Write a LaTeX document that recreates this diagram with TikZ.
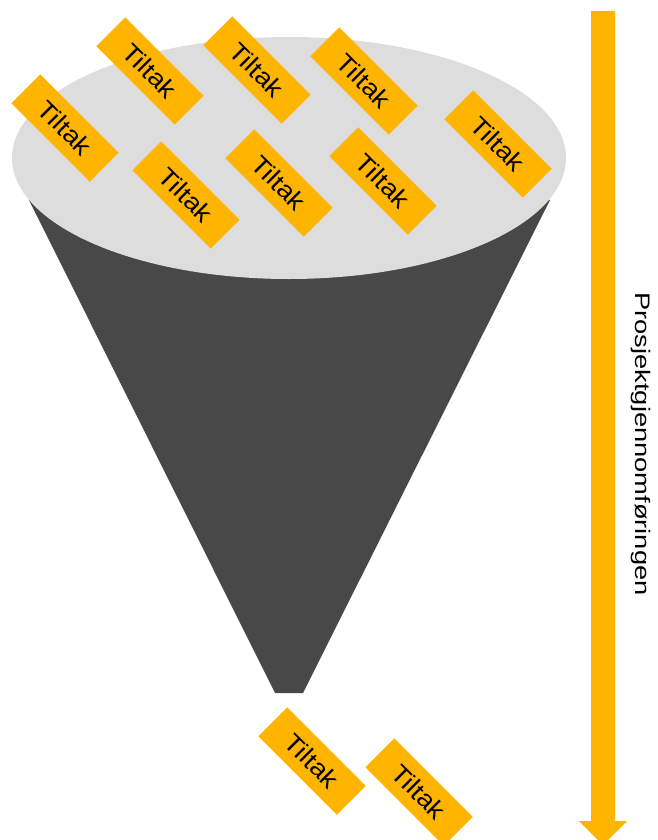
\documentclass[tikz,border=0pt]{standalone}
\usepackage{fontspec}
\usepackage{graphicx}
\setmainfont{Liberation Sans}
\definecolor{tiltakorange}{HTML}{FFB400}
\definecolor{conedark}{HTML}{484848}
\definecolor{toplight}{HTML}{DDDDDD}
\tikzset{
  tiltak/.style={rectangle, fill=tiltakorange, minimum width=111pt, minimum height=41pt,
    inner sep=0pt, rotate=-45, font=\fontsize{25}{29}\selectfont, text=black},
}
\newcommand{\tiltaktext}{\scalebox{1.1}[1]{Tiltak}}
\begin{document}
\begin{tikzpicture}[x=1pt,y=-1pt]
\useasboundingbox (0,0) rectangle (657,840);
\clip (0,0) rectangle (657,840);
% funnel
\fill[conedark] (29,200) -- (275,693) -- (303,693) -- (550,200) -- (289,158) -- cycle;
\fill[toplight] (289,158) ellipse [x radius=277, y radius=121];
% boxes
\node[tiltak] (t1) at (65,128) {\tiltaktext};
\node[tiltak] (t2) at (150,71) {\tiltaktext};
\node[tiltak] (t3) at (257,70) {\tiltaktext};
\node[tiltak] (t4) at (186,195) {\tiltaktext};
\node[tiltak] (t5) at (279,183) {\tiltaktext};
\node[tiltak] (t6) at (364,81) {\tiltaktext};
\node[tiltak] (t7) at (498,144) {\tiltaktext};
\node[tiltak] (t8) at (383,181) {\tiltaktext};
\node[tiltak] (ta) at (312,761) {\tiltaktext};
\node[tiltak] (tb) at (419,792) {\tiltaktext};
% arrow
\fill[tiltakorange] (591,11) -- (615,11) -- (615,821) -- (627,821) -- (603,845) -- (579,821) -- (591,821) -- cycle;
\node[rotate=-90, font=\fontsize{21}{25}\selectfont, inner sep=0pt] (prosj) at (641,444) {\scalebox{1.3}[1]{Prosjektgjennomføringen}};
\end{tikzpicture}
\end{document}
